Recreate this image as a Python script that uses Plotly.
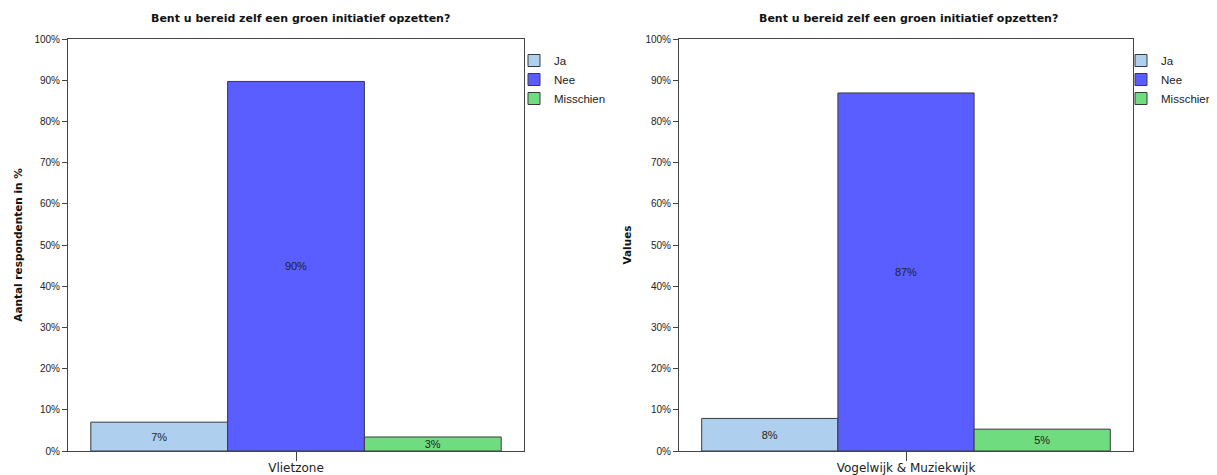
import plotly.graph_objects as go

title_text = "Bent u bereid zelf een groen initiatief opzetten?"
answers = ["Ja", "Nee", "Misschien"]
colors = ["#AED0EE", "#5A5EFF", "#70DC80"]

left_category = ["Vlietzone"]
left_values = [7.0, 89.7, 3.4]
left_ytitle = "Aantal respondenten in %"

right_category = ["Vogelwijk &amp; Muziekwijk"]
right_values = [7.9, 86.9, 5.3]
right_ytitle = "Values"

# page body has an 8px margin: lay the figure out in window pixels minus that offset
OFF = 8
FW, FH = 1217 - OFF, 475 - OFF


def px(x):
    return (x - OFF) / FW


def py(y):
    return 1 - (y - OFF) / FH


fig = go.Figure()


def add_bars(cat, values, xa, ya, legend):
    for name, val, col in zip(answers, values, colors):
        fig.add_trace(go.Bar(
            x=cat, y=[val], name=name, xaxis=xa, yaxis=ya, legend=legend,
            marker=dict(color=col, line=dict(color="#3a3a3a", width=1)),
            texttemplate="%{y:.0f}%", textposition="inside",
            insidetextanchor="middle", constraintext="none",
            textfont=dict(family="Liberation Sans", size=11, color="#222222"),
            hoverinfo="skip",
        ))


add_bars(left_category, left_values, "x", "y", "legend")
add_bars(right_category, right_values, "x2", "y2", "legend2")

axis_common = dict(
    showline=True, mirror=True, linecolor="#444444", linewidth=1,
    showgrid=False, zeroline=False, automargin=False,
    ticks="outside", tickcolor="#444444",
)

xfont = dict(family="DejaVu Sans", size=12, color="#222222")
yfont = dict(family="Liberation Sans", size=10, color="#222222")
ytfont = dict(family="DejaVu Sans", size=10.5, color="#111111")
lfont = dict(family="Liberation Sans", size=11.5, color="#222222")
tfont = dict(family="DejaVu Sans", size=11, color="#111111")

fig.update_layout(
    template="plotly_white",
    width=FW, height=FH, margin=dict(l=0, r=0, t=0, b=0, autoexpand=False),
    paper_bgcolor="white", plot_bgcolor="white",
    barmode="group", bargap=0.1, bargroupgap=0,
    xaxis=dict(domain=[px(68), px(524)], anchor="y", ticklen=9, ticklabelstandoff=-3,
               tickfont=xfont, **axis_common),
    yaxis=dict(domain=[py(451), py(39)], anchor="x", range=[0, 100], dtick=10,
               ticksuffix="%", ticklen=5, tickfont=yfont,
               title=dict(text="<b>" + left_ytitle + "</b>", font=ytfont, standoff=9),
               **axis_common),
    xaxis2=dict(domain=[px(679), px(1133)], anchor="y2", ticklen=9, ticklabelstandoff=-3,
                tickfont=xfont, **axis_common),
    yaxis2=dict(domain=[py(451), py(39)], anchor="x2", range=[0, 100], dtick=10,
                ticksuffix="%", ticklen=5, tickfont=yfont,
                title=dict(text="<b>" + right_ytitle + "</b>", font=ytfont, standoff=11),
                **axis_common),
    legend=dict(x=px(514), y=py(46), xanchor="left", yanchor="top",
                bgcolor="rgba(0,0,0,0)", font=lfont, tracegroupgap=0),
    legend2=dict(x=px(1121), y=py(46), xanchor="left", yanchor="top",
                 bgcolor="rgba(0,0,0,0)", font=lfont, tracegroupgap=0),
    showlegend=True,
    annotations=[
        dict(text="<b>" + title_text + "</b>", x=px(300), y=py(18), xref="paper", yref="paper",
             showarrow=False, xanchor="center", yanchor="middle", font=tfont),
        dict(text="<b>" + title_text + "</b>", x=px(908), y=py(18), xref="paper", yref="paper",
             showarrow=False, xanchor="center", yanchor="middle", font=tfont),
    ],
)

fig.write_html("out.html")
